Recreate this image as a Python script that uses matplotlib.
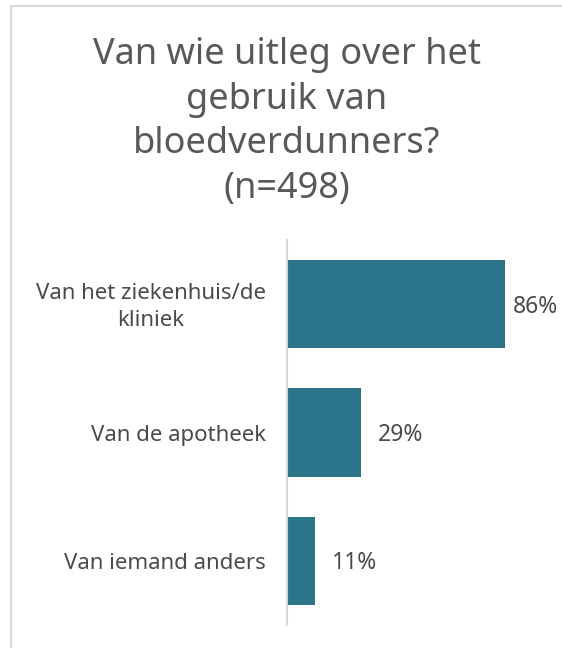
import matplotlib
matplotlib.use("Agg")
import matplotlib.pyplot as plt
from matplotlib.patches import Rectangle

# Survey answers and shares (%)
categories = ["Van het ziekenhuis/de\nkliniek", "Van de apotheek", "Van iemand anders"]
values = [86, 29, 11]
value_labels = ["86%", "29%", "11%"]
title = "Van wie uitleg over het\ngebruik van\nbloedverdunners?\n(n=498)"

plt.rcParams["font.family"] = ["Noto Sans", "DejaVu Sans"]

W, H = 562, 648
fig = plt.figure(figsize=(W / 100, H / 100), dpi=100)

# light frame around the chart
fig.patches.append(Rectangle((11 / W, -0.01), 1.1, (H - 6) / H + 0.01,
                             transform=fig.transFigure, fill=False,
                             edgecolor="#d9d9d9", linewidth=1.5))

fig.text(287 / W, 1 - 122 / H, title, ha="center", va="center",
         fontsize=26, color="#595959", linespacing=1.33)

ax_w = 253.5
ax = fig.add_axes([287 / W, 1 - 625 / H, ax_w / W, 385 / H])
y = list(range(len(categories)))
ax.barh(y, values, height=0.69, color="#2a758a")
ax.set_xlim(0, 100)
ax.set_ylim(len(categories) - 0.5, -0.5)
ax.set_yticks([])
ax.set_xticks([])
for s in ["top", "right", "bottom"]:
    ax.spines[s].set_visible(False)
ax.spines["left"].set_color("#d9d9d9")
ax.spines["left"].set_linewidth(1.5)

# category labels, right-aligned to the axis, lines centred
for yi, cat in zip(y, categories):
    ax.text(-21 / ax_w, yi + 0.02, cat, transform=ax.get_yaxis_transform(),
            ha="right", va="center", multialignment="center",
            fontsize=16, color="#4a4a4a", linespacing=1.35)

# value labels; the long bar gets a tighter gap so it stays inside
for yi, v, lab in zip(y, values, value_labels):
    gap = 17 if v < 80 else 8
    ax.annotate(lab, (v, yi + 0.02), xytext=(gap * 0.72, 0), textcoords="offset points",
                va="center", ha="left", fontsize=16.5, color="#4a4a4a")

fig.savefig("out.png", dpi=100)
